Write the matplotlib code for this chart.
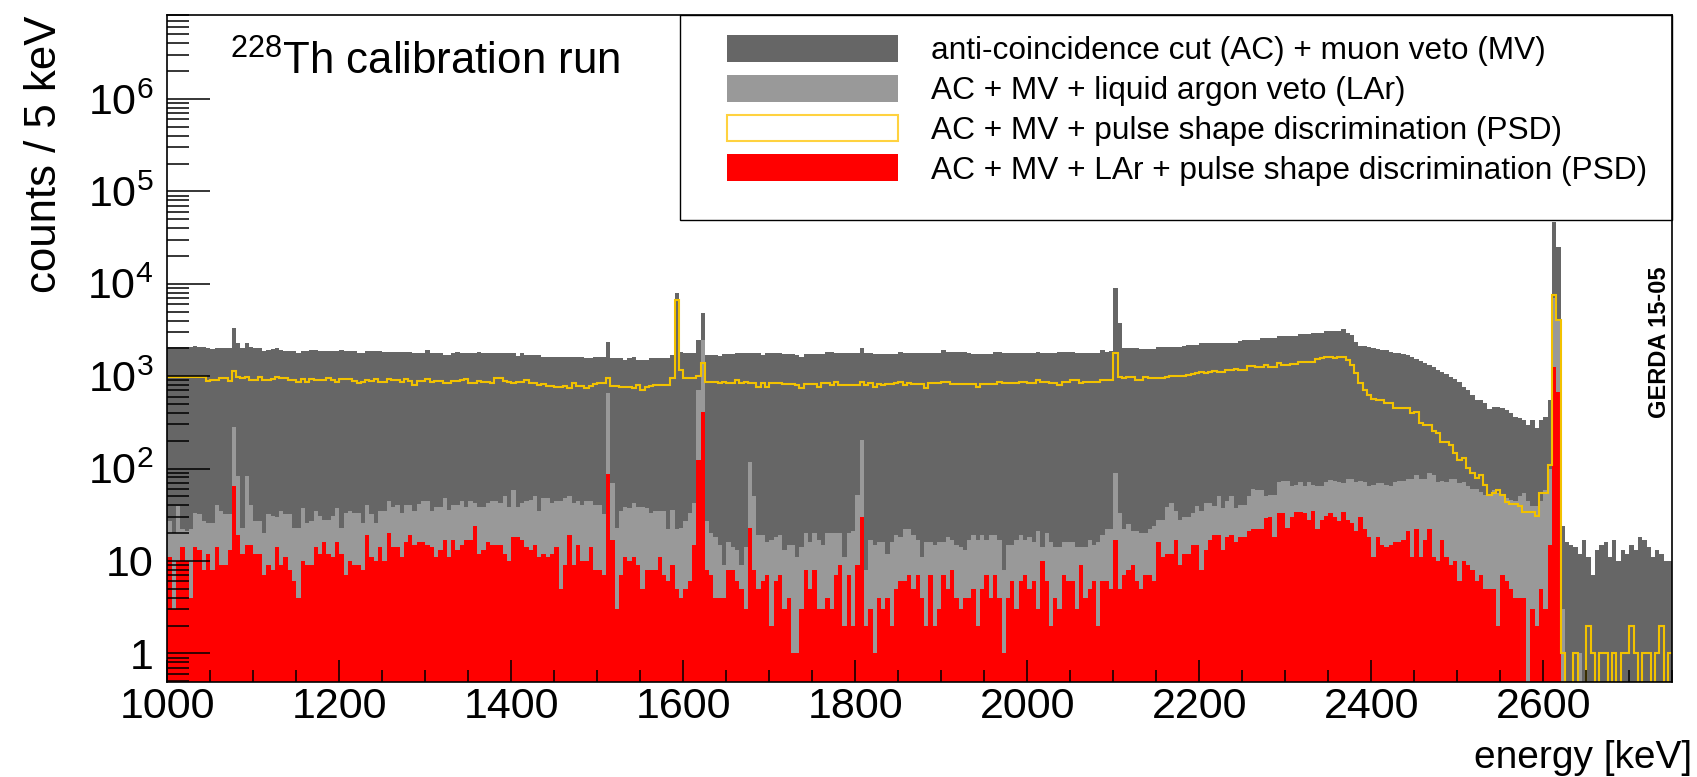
import numpy as np
import matplotlib
matplotlib.use('Agg')
import matplotlib.pyplot as plt
from matplotlib.patches import Patch, Rectangle
from matplotlib.ticker import FixedLocator, FixedFormatter, MultipleLocator, LogLocator, NullFormatter

plt.rcParams['font.family'] = ['Liberation Sans', 'DejaVu Sans']
plt.rcParams['mathtext.fontset'] = 'custom'
plt.rcParams['mathtext.rm'] = 'Liberation Sans'
plt.rcParams['mathtext.it'] = 'Liberation Sans:italic'
plt.rcParams['mathtext.bf'] = 'Liberation Sans:bold'

# 5 keV bins from 1000 to 2750 keV (350 bins)
e_min, e_max, bin_w = 1000, 2750, 5

# counts / 5 keV
# anti-coincidence cut (AC) + muon veto (MV)
ac_mv = [
    2050, 2050, 2050, 2050, 2050, 2080, 2100, 2080, 2050, 2000,
    1960, 2000, 2000, 2000, 2000, 3300, 2300, 2000, 2300, 2050,
    2000, 2000, 1850, 1920, 1950, 2000, 1900, 1850, 1850, 1850,
    1800, 1850, 1850, 1920, 1920, 1850, 1850, 1850, 1850, 1850,
    1920, 1850, 1850, 1850, 1770, 1800, 1850, 1850, 1850, 1850,
    1840, 1840, 1840, 1840, 1840, 1840, 1840, 1770, 1770, 1770,
    1920, 1770, 1770, 1770, 1700, 1700, 1770, 1840, 1770, 1770,
    1770, 1770, 1840, 1770, 1770, 1770, 1770, 1770, 1770, 1770,
    1770, 1650, 1770, 1700, 1700, 1700, 1700, 1630, 1630, 1630,
    1630, 1630, 1630, 1600, 1600, 1600, 1600, 1560, 1560, 1630,
    1630, 1630, 2360, 1560, 1560, 1560, 1500, 1560, 1630, 1500,
    1500, 1480, 1560, 1560, 1560, 1560, 1560,
    1695, 7890, 1810, 1767, 1767, 1767, 2465, 4790, 1695, 1695,
    1695, 1660, 1740, 1740, 1740, 1790, 1767, 1767, 1767, 1767,
    1767, 1695, 1767, 1767, 1767, 1767, 1730, 1730, 1730, 1695,
    1620, 1740, 1740, 1740, 1740, 1740, 1810, 1810, 1767, 1767,
    1767, 1767, 1767, 1767, 2000, 1790, 1790, 1740, 1740, 1740,
    1740, 1740, 1740, 1810, 1767, 1767, 1767, 1767, 1767, 1767,
    1790, 1767, 1767, 1920, 1810, 1810, 1810, 1810, 1810, 1790,
    1740, 1740, 1740, 1740, 1740, 1810, 1810, 1767, 1767, 1767,
    1767, 1767, 1767, 1767, 1767, 1810, 1767, 1767, 1767, 1767,
    1810, 1810, 1810, 1810, 1767, 1767, 1767, 1767, 1767, 1767,
    1920, 1810, 1850, 8940, 3735, 2000, 2000, 2000, 2000, 1960,
    1960, 1960, 1960, 2050, 2050, 2085,
    2085, 2085, 2085, 2130, 2170, 2170, 2170, 2270, 2270, 2270,
    2300, 2300, 2300, 2300, 2300, 2300, 2380, 2460, 2460, 2460,
    2460, 2600, 2600, 2600, 2600, 2700, 2700, 2700, 2700, 2700,
    2830, 2830, 2830, 2958, 2958, 2958, 3080, 3080, 3080, 3080,
    3200, 2958, 2790, 2360, 2136, 2136, 2085, 2000, 1950, 1920,
    1920, 1840, 1790, 1790, 1740, 1680, 1626, 1520, 1470, 1377,
    1320, 1268, 1167, 1120, 1050, 988, 940, 872, 769, 700,
    625, 552, 552, 509, 440, 468, 468, 450, 430, 396,
    364, 350, 335, 296, 335, 273, 335, 364, 552, 47000,
    25200, 24, 16, 15, 14, 12, 17, 11, 7, 13,
    15, 16, 11, 17, 10, 13, 12, 15, 13, 18,
    17, 14, 11, 13, 12, 10, 10,
]

# AC + MV + liquid argon veto (LAr)
ac_mv_lar = [
    27, 20, 39, 22, 21, 22, 33, 32, 27, 26,
    26, 40, 35, 32, 32, 284, 82, 23, 82, 40,
    27, 27, 20, 32, 31, 30, 35, 32, 32, 23,
    23, 37, 26, 27, 35, 31, 28, 28, 31, 37,
    23, 33, 35, 33, 33, 26, 40, 32, 26, 35,
    35, 45, 38, 40, 33, 40, 40, 35, 41, 44,
    44, 35, 38, 38, 48, 36, 40, 40, 44, 38,
    44, 42, 38, 38, 42, 45, 45, 42, 50, 38,
    58, 38, 42, 45, 46, 50, 35, 48, 48, 42,
    44, 45, 48, 50, 42, 44, 40, 44, 44, 40,
    40, 32, 652, 69, 23, 35, 38, 37, 42, 38,
    38, 37, 33, 35, 35, 35, 22,
    36, 22, 23, 27, 33, 42, 708, 2465, 27, 20,
    18, 15, 9, 16, 14, 13, 9, 14, 119, 50,
    19, 19, 16, 17, 18, 19, 13, 15, 15, 11,
    14, 20, 16, 20, 17, 15, 20, 20, 20, 20,
    11, 20, 21, 52, 204, 8, 17, 15, 16, 16,
    12, 16, 19, 18, 22, 22, 19, 17, 11, 16,
    16, 15, 16, 16, 18, 17, 15, 14, 13, 17,
    19, 17, 19, 17, 19, 19, 17, 8, 15, 15,
    17, 19, 17, 18, 16, 21, 14, 20, 16, 14,
    14, 16, 16, 16, 14, 14, 14, 17, 15, 16,
    19, 22, 22, 89, 33, 22, 25, 21, 21, 20,
    20, 22, 24, 28, 28, 38,
    42, 35, 28, 30, 30, 33, 39, 35, 42, 42,
    39, 50, 37, 45, 50, 37, 40, 40, 50, 60,
    58, 58, 50, 52, 52, 71, 74, 74, 64, 67,
    71, 64, 71, 67, 64, 64, 71, 76, 74, 71,
    69, 77, 77, 71, 74, 71, 64, 67, 69, 69,
    67, 64, 71, 74, 74, 77, 77, 85, 77, 77,
    89, 85, 71, 74, 71, 77, 77, 69, 71, 64,
    60, 60, 56, 52, 50, 58, 54, 50, 48, 46,
    45, 50, 54, 45, 39, 39, 45, 58, 100, 7000,
    4000, 3, 0, 0, 0, 1, 0, 0, 0, 0,
    0, 0, 0, 0, 0, 0, 0, 0, 0, 0,
    0, 0, 0, 0, 0, 0, 0,
]

# AC + MV + pulse shape discrimination (PSD)
ac_mv_psd = [
    972, 972, 972, 972, 972, 972, 972, 972, 972, 895,
    908, 908, 950, 950, 895, 1146, 985, 950, 972, 908,
    908, 972, 908, 908, 930, 972, 950, 950, 908, 908,
    872, 920, 872, 930, 908, 908, 908, 950, 908, 872,
    930, 930, 930, 890, 837, 872, 908, 890, 930, 872,
    872, 930, 908, 908, 872, 930, 890, 802, 890, 890,
    930, 872, 890, 890, 837, 850, 890, 890, 908, 930,
    850, 837, 890, 860, 860, 837, 950, 950, 890, 872,
    837, 872, 872, 908, 837, 837, 802, 820, 785, 785,
    769, 769, 785, 739, 837, 785, 785, 739, 785, 820,
    837, 837, 950, 785, 785, 760, 760, 760, 739, 802,
    708, 760, 785, 802, 802, 802, 802,
    948, 6680, 1167, 948, 948, 948, 1010, 1377, 872, 872,
    872, 837, 872, 837, 850, 908, 850, 872, 837, 837,
    769, 837, 769, 837, 837, 850, 825, 825, 825, 802,
    739, 825, 825, 825, 769, 850, 850, 802, 872, 802,
    802, 802, 802, 802, 872, 802, 837, 769, 825, 802,
    825, 825, 850, 872, 802, 837, 825, 825, 825, 739,
    837, 850, 850, 872, 872, 825, 825, 825, 825, 825,
    825, 769, 825, 825, 825, 825, 872, 837, 837, 837,
    837, 872, 872, 837, 837, 908, 872, 872, 837, 837,
    802, 872, 872, 908, 908, 837, 872, 872, 872, 872,
    908, 908, 908, 1767, 988, 948, 988, 988, 908, 908,
    970, 948, 948, 948, 948, 988,
    1004, 1004, 1004, 1000, 1029, 1050, 1074, 1119, 1074, 1119,
    1146, 1119, 1119, 1167, 1167, 1190, 1167, 1167, 1289, 1289,
    1260, 1268, 1321, 1268, 1268, 1377, 1321, 1321, 1354, 1354,
    1436, 1436, 1436, 1436, 1523, 1560, 1600, 1626, 1560, 1600,
    1626, 1497, 1321, 1074, 837, 708, 625, 561, 552, 552,
    509, 509, 449, 449, 449, 449, 396, 413, 309, 296,
    296, 257, 241, 195, 195, 180, 146, 124, 129, 101,
    90, 78, 85, 66, 52, 54, 59, 52, 43, 41,
    41, 39, 34, 34, 34, 31, 54, 54, 109, 7560,
    4055, 1, 0, 0, 1, 0, 0, 2, 1, 0,
    1, 1, 0, 1, 0, 1, 1, 2, 1, 0,
    1, 1, 0, 1, 2, 0, 1,
]

# AC + MV + LAr + PSD
ac_mv_lar_psd = [
    11, 3, 10, 14, 10, 4, 14, 13, 8, 12,
    8, 14, 9, 9, 13, 64, 19, 12, 15, 15,
    12, 12, 7, 9, 8, 14, 9, 11, 8, 6,
    4, 10, 9, 9, 14, 12, 16, 12, 11, 16,
    12, 7, 10, 9, 9, 8, 19, 11, 10, 14,
    10, 20, 14, 14, 11, 16, 19, 15, 16, 16,
    15, 14, 11, 13, 17, 11, 17, 13, 15, 17,
    17, 24, 12, 13, 16, 15, 15, 15, 12, 10,
    18, 18, 17, 14, 13, 15, 11, 12, 11, 12,
    14, 5, 9, 19, 9, 15, 10, 10, 14, 8,
    8, 7, 88, 17, 3, 7, 11, 10, 11, 9,
    5, 8, 8, 8, 11, 7, 6,
    9, 5, 4, 5, 6, 15, 124, 413, 8, 7,
    4, 4, 4, 8, 8, 6, 5, 3, 23, 8,
    5, 6, 7, 2, 6, 7, 3, 4, 1, 1,
    3, 8, 5, 8, 3, 3, 4, 3, 7, 9,
    2, 7, 2, 9, 30, 2, 3, 1, 4, 3,
    4, 2, 5, 6, 6, 7, 5, 7, 4, 2,
    7, 2, 3, 7, 5, 8, 4, 3, 4, 4,
    5, 2, 5, 7, 4, 7, 4, 1, 4, 6,
    3, 6, 7, 5, 6, 3, 10, 6, 2, 4,
    3, 7, 6, 6, 3, 9, 4, 5, 6, 2,
    6, 6, 5, 17, 5, 7, 8, 9, 6, 5,
    7, 7, 6, 16, 11, 12,
    12, 17, 9, 12, 12, 15, 15, 8, 13, 17,
    19, 19, 13, 18, 19, 16, 18, 18, 21, 22,
    22, 22, 29, 30, 18, 33, 33, 23, 30, 34,
    34, 33, 28, 35, 22, 28, 31, 33, 30, 27,
    34, 28, 26, 21, 30, 22, 18, 11, 18, 15,
    14, 15, 16, 16, 17, 21, 11, 22, 11, 17,
    22, 11, 10, 17, 11, 9, 10, 6, 10, 9,
    8, 6, 7, 5, 5, 5, 2, 7, 6, 5,
    4, 4, 4, 0, 3, 2, 5, 3, 15, 1268,
    679, 0, 0, 0, 0, 0, 0, 0, 0, 0,
    0, 0, 0, 0, 0, 0, 0, 0, 0, 0,
    0, 0, 0, 0, 0, 0, 0,
]

labels = [
    'anti-coincidence cut (AC) + muon veto (MV)',
    'AC + MV + liquid argon veto (LAr)',
    'AC + MV + pulse shape discrimination (PSD)',
    'AC + MV + LAr + pulse shape discrimination (PSD)',
]

col_dark = '#666666'
col_light = '#999999'
col_red = '#ff0000'
col_psd = '#f2c200'

edges = np.arange(e_min, e_max + bin_w, bin_w)


def on_log(v):
    # empty bins go below the axis on a log scale
    v = np.asarray(v, dtype=float)
    return np.where(v > 0, v, 1e-3)


W, H = 1697, 777
fig = plt.figure(figsize=(W / 100, H / 100), dpi=100)
ax = fig.add_axes([167.3 / W, 1 - 681.7 / H, 1505 / W, 666.7 / H])

ax.stairs(on_log(ac_mv), edges, fill=True, color=col_dark, baseline=1e-3, lw=0)
ax.stairs(on_log(ac_mv_lar), edges, fill=True, color=col_light, baseline=1e-3, lw=0)
ax.stairs(on_log(ac_mv_lar_psd), edges, fill=True, color=col_red, baseline=1e-3, lw=0)
ax.stairs(on_log(ac_mv_psd), edges, color=col_psd, lw=1.5, baseline=None)

ax.set_yscale('log')
ax.set_xlim(e_min, e_max)
ax.set_ylim(0.493, 8.1e6)

yt = [1, 10, 1e2, 1e3, 1e4, 1e5, 1e6]
ax.yaxis.set_major_locator(FixedLocator(yt))
ax.yaxis.set_major_formatter(FixedFormatter(['1', '10', '$10^{2}$', '$10^{3}$',
                                             '$10^{4}$', '$10^{5}$', '$10^{6}$']))
ax.yaxis.set_minor_locator(LogLocator(base=10, subs=np.arange(2, 10), numticks=30))
ax.yaxis.set_minor_formatter(NullFormatter())
ax.xaxis.set_major_locator(MultipleLocator(200))
ax.xaxis.set_minor_locator(MultipleLocator(50))

ax.tick_params(which='both', direction='in', top=False, right=False, width=1.1)
ax.tick_params(axis='y', which='major', length=31, labelsize=31, pad=10)
ax.tick_params(axis='y', which='minor', length=16)
ax.tick_params(axis='x', which='major', length=16, labelsize=31, pad=4)
ax.tick_params(axis='x', which='minor', length=8.6)
for s in ax.spines.values():
    s.set_linewidth(1.2)

fig.text(230 / W, 1 - 75 / H, r'$^{228}$Th calibration run', fontsize=31.5,
         ha='left', va='baseline')
fig.text(45 / W, 1 - 16 / H, 'counts / 5 keV', rotation=90, fontsize=31.5,
         ha='center', va='top')
fig.text(1692 / W, 1 - 768 / H, 'energy [keV]', fontsize=28, ha='right', va='baseline')
fig.text(1659 / W, 1 - 342 / H, 'GERDA 15-05', rotation=90, fontsize=17,
         fontweight='bold', ha='center', va='center')

# legend
fig.add_artist(Rectangle((680 / W, 1 - 220 / H), (1672 - 680) / W, (220 - 15) / H,
                         transform=fig.transFigure, facecolor='none',
                         edgecolor='black', lw=1.0, zorder=2))
handles = [
    Patch(facecolor=col_dark, edgecolor='none'),
    Patch(facecolor=col_light, edgecolor='none'),
    Patch(facecolor='white', edgecolor='#ffd23f', lw=1.5),
    Patch(facecolor=col_red, edgecolor='none'),
]
leg = fig.legend(handles, labels, loc='upper left', bbox_to_anchor=(727 / W, 1 - 35 / H),
                 frameon=False, fontsize=22.8, borderpad=0, borderaxespad=0,
                 handlelength=5.4, handleheight=0.92, handletextpad=1.05,
                 labelspacing=0.27)
leg.set_zorder(3)

fig.savefig('out.png', dpi=100)
